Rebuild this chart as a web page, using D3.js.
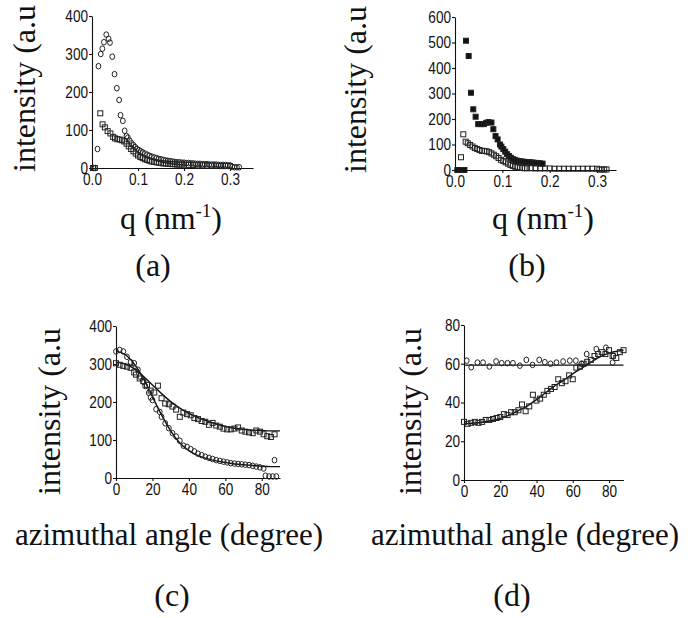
<!DOCTYPE html>
<html>
<head>
<meta charset="utf-8">
<script src="https://cdn.jsdelivr.net/npm/d3@7"></script>
<style>
  body { margin: 0; background: #fff; }
  svg { display: block; }
</style>
</head>
<body>
<script>
// ---- data ----
// (a) q (nm^-1) vs intensity
var aCircles = [[0.003,0],[0.007,0],[0.012,50],[0.014,268],[0.019,300],[0.0225,314],[0.026,331],[0.031,351],[0.036,340],[0.039,330],[0.044,293],[0.049,247],[0.054,210],[0.059,179],[0.062,139],[0.067,124],[0.071,98],[0.075,84],[0.078,80],[0.082,72],[0.086,65],[0.09,60],[0.094,55],[0.098,50],[0.102,47],[0.106,44],[0.11,41],[0.115,38],[0.12,35],[0.125,32],[0.13,30],[0.135,28],[0.14,26],[0.145,24],[0.15,23],[0.155,21],[0.16,20],[0.165,19],[0.17,18],[0.175,17],[0.18,16],[0.185,15],[0.19,15],[0.195,14],[0.2,14],[0.205,13],[0.21,13],[0.215,12],[0.22,12],[0.225,11],[0.23,11],[0.235,11],[0.24,10],[0.245,10],[0.25,10],[0.255,9],[0.26,9],[0.265,9],[0.27,9],[0.275,8],[0.28,8],[0.285,8],[0.29,8],[0.295,7],[0.3,7],[0.305,3],[0.31,2],[0.315,2],[0.32,2]];
var aSquares = [[0.002,0],[0.006,0],[0.018,144],[0.023,115],[0.028,107],[0.034,97],[0.04,91],[0.046,82],[0.05,78],[0.055,76],[0.06,75],[0.065,73],[0.07,70],[0.075,64],[0.08,57],[0.085,50],[0.09,44],[0.095,38],[0.1,33],[0.105,29],[0.11,26],[0.115,23],[0.12,21],[0.125,19],[0.13,17],[0.135,16],[0.14,15],[0.145,14],[0.15,13],[0.155,12],[0.16,12],[0.165,11],[0.17,11],[0.175,10],[0.18,10],[0.185,9],[0.19,9],[0.195,9],[0.2,9],[0.21,8],[0.22,8],[0.23,7],[0.24,7],[0.25,6],[0.26,6],[0.27,6],[0.28,5],[0.29,5],[0.3,5]];

// (b)
var bFilled = [[0.005,0],[0.01,0],[0.015,0],[0.02,0],[0.0232,507],[0.0288,447],[0.0337,303],[0.0386,238],[0.0435,209],[0.049,180],[0.055,180],[0.061,180],[0.066,185],[0.071,188],[0.077,186],[0.081,160],[0.0856,133],[0.09,120],[0.095,100],[0.098,92],[0.102,82],[0.106,72],[0.11,62],[0.114,55],[0.118,48],[0.122,43],[0.126,40],[0.13,37],[0.134,35],[0.138,34],[0.142,33],[0.146,32],[0.15,31],[0.155,31],[0.16,30],[0.165,29],[0.17,28],[0.175,27],[0.18,26],[0.185,25]];
var bOpen = [[0.0126,50],[0.0175,140],[0.0225,111],[0.027,105],[0.032,98],[0.037,92],[0.042,86],[0.047,82],[0.052,78],[0.057,75],[0.062,75],[0.067,73],[0.072,70],[0.077,65],[0.082,60],[0.087,54],[0.092,47],[0.097,40],[0.102,35],[0.107,30],[0.112,25],[0.117,20],[0.122,16],[0.127,13],[0.132,11],[0.137,9],[0.142,8],[0.147,7],[0.152,7],[0.16,7],[0.17,6],[0.18,6],[0.19,6],[0.2,6],[0.21,5],[0.22,5],[0.23,5],[0.24,5],[0.25,5],[0.26,5],[0.27,5],[0.28,5],[0.29,5],[0.3,5],[0.305,2],[0.31,2],[0.315,2],[0.32,2]];

// (c) azimuthal angle vs intensity
var cCircles = [[0,333],[2,337],[4,333],[6,319],[8,305],[10,302],[12,285],[13,267],[15,253],[16,242],[18,224],[19,212],[20,205],[22,181],[24,174],[25,161],[27,144],[29,131],[31,118],[33,109],[35,98],[37,85],[39,82],[41,76],[43,70],[45,64],[47,60],[49,56],[51,53],[53,50],[55,47],[57,45],[59,43],[61,41],[63,39],[65,38],[67,37],[69,36],[71,35],[73,34],[75,32],[77,30],[79,28],[81,25],[82,6],[84,4],[86,4],[88,4],[87,47]];
var cSquares = [[0,302],[2,298],[4,295],[6,293],[8,290],[10,278],[11,272],[13,262],[15,255],[17,245],[19,230],[21,225],[23,243],[25,210],[27,196],[29,194],[31,188],[33,180],[35,161],[37,172],[39,168],[41,165],[43,158],[45,155],[47,150],[49,148],[51,140],[53,145],[55,138],[57,135],[59,130],[61,128],[63,128],[65,130],[67,133],[69,125],[71,122],[73,120],[75,118],[77,125],[79,122],[81,115],[83,110],[85,108],[87,115]];
var cCircleFit = [[0,334],[5,325],[10,300],[15,262],[20,214],[25,166],[30,124],[35,92],[40,72],[45,59],[50,51],[55,45],[60,41],[65,37],[70,35],[75,33],[80,31],[85,30],[90,30]];
var cSquareFit = [[0,305],[5,300],[10,288],[15,268],[20,245],[25,222],[30,201],[35,184],[40,170],[45,159],[50,150],[55,142],[60,136],[65,131],[70,128],[75,126],[80,125],[85,124],[90,124]];

// (d)
var dCircles = [[1.5,61.6],[4,58.2],[7.4,60.6],[10.5,60.6],[14,58.6],[17.7,61.2],[20.8,60.3],[24,60.3],[27,60.3],[30.8,59],[34.4,62],[37.8,59.4],[41.5,62],[44.6,60.8],[47.7,60],[51,60.6],[54.7,61.2],[58.4,61.6],[61.7,61.6],[64.8,60],[67.7,65],[73,67.6],[78.3,68.3],[82,60.6],[82.5,64]];
var dSquares = [[0,30],[2,29],[4,29.5],[6,30],[8,29.5],[10,30],[12,31],[14,31],[16,31.5],[18,32],[20,32.5],[22,34],[24,33.5],[26,35],[28,35],[30,36],[32,39],[34,35.5],[36,38],[38,44],[40,41],[42,42],[44,44],[46,46],[48,47],[50,48],[52,52],[54,50],[56,51],[58,54],[60,52],[62,58],[64,58.5],[66,60],[68,61],[70,62],[72,64],[74,65],[76,66],[78,65],[80,67],[82,64],[84,63],[86,66],[88,67]];
var dFlatFit = [[0,59.3],[88,59.3]];
var dSquareFit = [[0,29],[5,29.3],[10,29.8],[15,30.6],[20,31.8],[25,33.5],[30,35.8],[35,38.3],[40,41.5],[45,45],[50,48.5],[55,51.5],[60,54.8],[65,57.8],[70,60.8],[75,63.5],[80,65.5],[85,66.5],[88,67]];

var qTicks = [0, 0.1, 0.2, 0.3];
var angleTicks = [0, 20, 40, 60, 80];
var yTicksA = [0, 100, 200, 300, 400];
var yTicksB = [0, 100, 200, 300, 400, 500, 600];
var yTicksD = [0, 20, 40, 60, 80];

var W = 692, H = 618;
var serif = "'Liberation Serif', 'Times New Roman', serif";
var sans = "'Liberation Sans', Arial, sans-serif";

var svg = d3.select("body").append("svg")
    .attr("width", W)
    .attr("height", H);

svg.append("rect").attr("width", W).attr("height", H).attr("fill", "#fff");

function panel(p) {
    var x = d3.scaleLinear().domain(p.xd).range(p.xr);
    var y = d3.scaleLinear().domain(p.yd).range(p.yr);
    var g = svg.append("g");

    var xa = g.append("g")
        .attr("transform", "translate(0," + p.yr[0] + ")")
        .call(d3.axisBottom(x).tickValues(p.xt).tickSize(3).tickPadding(2)
            .tickFormat(p.xf).tickSizeOuter(0));
    var ya = g.append("g")
        .attr("transform", "translate(" + p.xr[0] + ",0)")
        .call(d3.axisLeft(y).tickValues(p.yt).tickSize(3).tickPadding(2)
            .tickSizeOuter(0));
    [xa, ya].forEach(function(a) {
        a.selectAll("path, line").attr("stroke", "#111").attr("stroke-width", 1.1);
        // condensed look of the original tick font
        a.selectAll("text").attr("fill", "#111")
            .attr("transform", "scale(0.8,1)")
            .style("font-family", sans).style("font-size", "17px");
    });

    // fitted curves
    (p.lines || []).forEach(function(l) {
        g.append("path")
            .datum(l)
            .attr("fill", "none")
            .attr("stroke", "#111")
            .attr("stroke-width", 1.4)
            .attr("d", d3.line().curve(d3.curveMonotoneX)
                .x(function(d) { return x(d[0]); })
                .y(function(d) { return y(d[1]); }));
    });

    p.series.forEach(function(s) {
        if (s.shape === "circle") {
            g.selectAll(null).data(s.data).enter().append("ellipse")
                .attr("cx", function(d) { return x(d[0]); })
                .attr("cy", function(d) { return y(d[1]); })
                .attr("rx", 2.4)
                .attr("ry", 2.8)
                .attr("fill", "none")
                .attr("stroke", "#222")
                .attr("stroke-width", 1);
        } else {
            var sz = 5;
            g.selectAll(null).data(s.data).enter().append("rect")
                .attr("x", function(d) { return x(d[0]) - sz / 2; })
                .attr("y", function(d) { return y(d[1]) - sz / 2; })
                .attr("width", sz)
                .attr("height", sz)
                .attr("fill", s.shape === "filled" ? "#111" : "none")
                .attr("stroke", "#222")
                .attr("stroke-width", 1);
        }
    });

    // y label (rotated)
    g.append("text")
        .attr("transform", "translate(" + p.ylab[0] + "," + p.ylab[1] + ") rotate(-90)")
        .attr("text-anchor", "start")
        .style("font-family", serif)
        .style("font-size", "32px")
        .attr("fill", "#111")
        .text("intensity (a.u");

    // x label
    var xl = g.append("text")
        .attr("x", p.xlab[0]).attr("y", p.xlab[1])
        .attr("text-anchor", "middle")
        .style("font-family", serif)
        .style("font-size", p.xlabSize + "px")
        .attr("fill", "#111");
    if (p.q) {
        xl.append("tspan").text("q (nm");
        xl.append("tspan").attr("dy", -12).style("font-size", "19px").text("-1");
        xl.append("tspan").attr("dy", 12).text(")");
    } else {
        xl.text("azimuthal angle (degree)");
    }

    g.append("text")
        .attr("x", p.tag[0]).attr("y", p.tag[1])
        .attr("text-anchor", "middle")
        .style("font-family", serif)
        .style("font-size", "32px")
        .attr("fill", "#111")
        .text(p.tagText);
}

var qFmt = d3.format(".1f");

panel({
    xd: [0, 0.35], xr: [92, 253], yd: [0, 400], yr: [168, 16],
    xt: qTicks, xf: qFmt, yt: yTicksA,
    series: [{shape: "circle", data: aCircles}, {shape: "square", data: aSquares}],
    ylab: [35, 172], xlab: [171, 229], xlabSize: 32, q: true,
    tag: [153, 276], tagText: "(a)"
});

panel({
    xd: [0, 0.34], xr: [455, 616], yd: [0, 600], yr: [170, 17],
    xt: qTicks, xf: qFmt, yt: yTicksB,
    series: [{shape: "square", data: bOpen}, {shape: "filled", data: bFilled}],
    ylab: [366, 173], xlab: [543, 229], xlabSize: 32, q: true,
    tag: [527, 276], tagText: "(b)"
});

panel({
    xd: [0, 90], xr: [116, 280], yd: [0, 400], yr: [478, 326],
    xt: angleTicks, xf: d3.format("d"), yt: yTicksA,
    lines: [cCircleFit, cSquareFit],
    series: [{shape: "circle", data: cCircles}, {shape: "square", data: cSquares}],
    ylab: [60, 495], xlab: [169, 545], xlabSize: 31,
    tag: [172, 606], tagText: "(c)"
});

panel({
    xd: [0, 88], xr: [464, 623.5], yd: [0, 80], yr: [480, 325],
    xt: angleTicks, xf: d3.format("d"), yt: yTicksD,
    lines: [dFlatFit, dSquareFit],
    series: [{shape: "circle", data: dCircles}, {shape: "square", data: dSquares}],
    ylab: [421, 495], xlab: [525, 545], xlabSize: 31,
    tag: [512, 606], tagText: "(d)"
});
</script>
</body>
</html>
